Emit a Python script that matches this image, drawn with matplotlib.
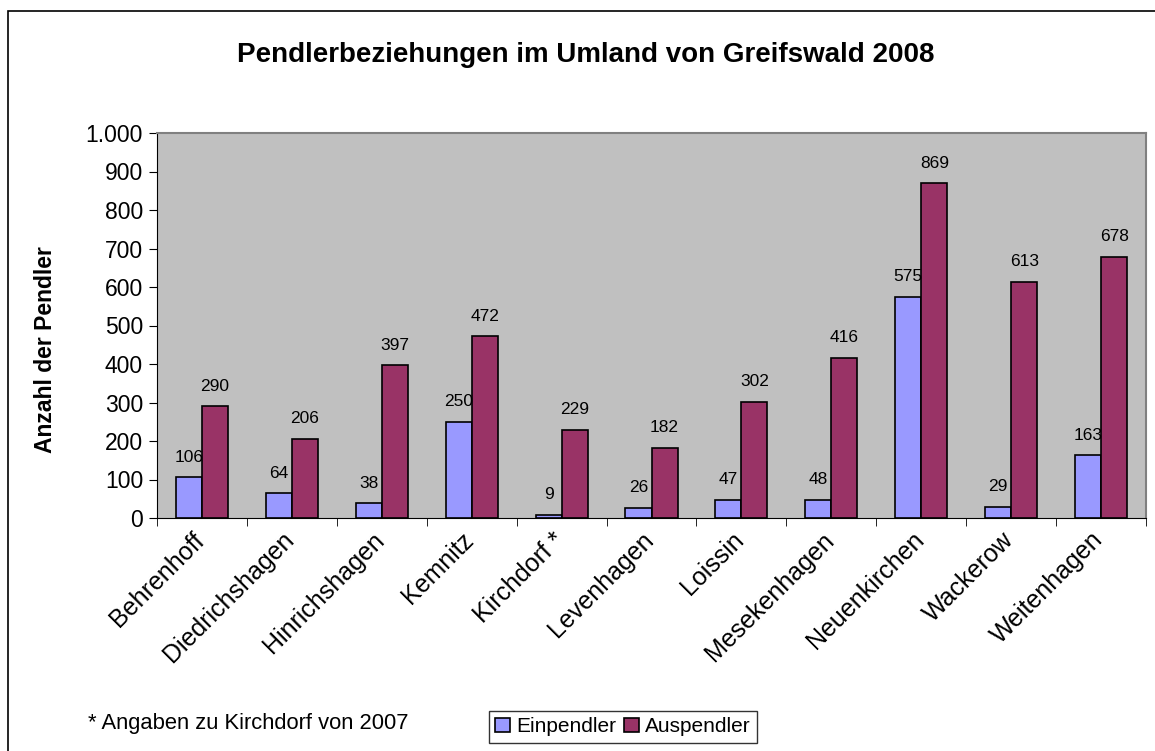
import matplotlib.pyplot as plt
from matplotlib.patches import Rectangle
from matplotlib.ticker import FixedLocator, FuncFormatter
import numpy as np

plt.rcParams['font.family'] = ['Liberation Sans', 'DejaVu Sans']

# Daten
orte = ['Behrenhoff', 'Diedrichshagen', 'Hinrichshagen', 'Kemnitz', 'Kirchdorf *',
        'Levenhagen', 'Loissin', 'Mesekenhagen', 'Neuenkirchen', 'Wackerow', 'Weitenhagen']
einpendler = [106, 64, 38, 250, 9, 26, 47, 48, 575, 29, 163]
auspendler = [290, 206, 397, 472, 229, 182, 302, 416, 869, 613, 678]

fig = plt.figure(figsize=(11.55, 7.51), dpi=100)
ax = fig.add_axes([157/1155, 1-518/751, (1146-157)/1155, (518-133)/751])

x = np.arange(len(orte))
w = 0.29
b1 = ax.bar(x - w/2, einpendler, w, color='#9999FF', edgecolor='black', linewidth=1.2, label='Einpendler')
b2 = ax.bar(x + w/2, auspendler, w, color='#993366', edgecolor='black', linewidth=1.2, label='Auspendler')

for bars, vals in ((b1, einpendler), (b2, auspendler)):
    for r, v in zip(bars, vals):
        ax.annotate(str(v), (r.get_x() + r.get_width()/2, r.get_height()),
                    xytext=(0, 9), textcoords='offset points',
                    ha='center', va='bottom', fontsize=12.5)

ax.set_facecolor('#C0C0C0')
ax.set_xlim(-0.5, len(orte) - 0.5)
ax.set_ylim(0, 1000)
ax.set_yticks(range(0, 1001, 100))
ax.yaxis.set_major_formatter(FuncFormatter(lambda v, p: f'{int(v):,}'.replace(',', '.')))
ax.tick_params(axis='y', direction='out', length=6, labelsize=16.5, pad=4)

# Beschriftungen etwas nach links versetzt (wie im Original)
ax.set_xticks(x - 0.11)
ax.set_xticklabels(orte, rotation=45, ha='right', rotation_mode='anchor', fontsize=18)
ax.xaxis.set_minor_locator(FixedLocator(np.arange(-0.5, len(orte), 1.0)))
ax.tick_params(axis='x', which='major', length=0, pad=7)
ax.tick_params(axis='x', which='minor', direction='out', length=6)

for s in ('top', 'right'):
    ax.spines[s].set_color('#808080')
    ax.spines[s].set_linewidth(1.5)
ax.spines['left'].set_color('black')
ax.spines['bottom'].set_color('black')

ax.set_ylabel('Anzahl der Pendler', fontsize=16.5, fontweight='bold')
ax.yaxis.set_label_coords(-(157-57)/(1146-157), (518-350)/385)

fig.text(586/1155, 1-55/751, 'Pendlerbeziehungen im Umland von Greifswald 2008',
         ha='center', va='center', fontsize=20, fontweight='bold')
fig.text(88/1155, 1-723/751, '* Angaben zu Kirchdorf von 2007', ha='left', va='center', fontsize=15.8)

leg = fig.legend(loc='upper left', bbox_to_anchor=(489/1155, 1-711/751), ncol=2,
                 fontsize=15, frameon=True, fancybox=False, borderpad=0.3,
                 handlelength=0.7, handleheight=0.7, handletextpad=0.3, columnspacing=0.4,
                 borderaxespad=0)
leg.get_frame().set_edgecolor('black')
leg.get_frame().set_linewidth(1.0)

# Rahmen um das Diagramm
fig.patches.append(Rectangle((8/1155, -0.1), 1.2, 1 - 11/751 + 0.1, transform=fig.transFigure,
                             fill=False, edgecolor='black', linewidth=1.2))

plt.savefig('out.png', dpi=100)
